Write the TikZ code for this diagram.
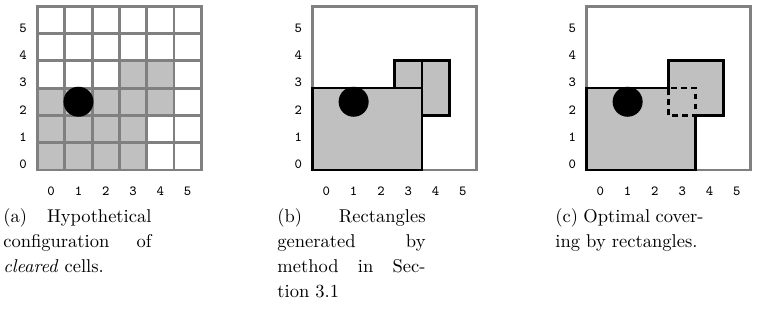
\documentclass[tikz,border=0pt]{standalone}
\usepackage{tikz}
\usetikzlibrary{positioning}

\definecolor{cellgray}{RGB}{192,192,192}
\definecolor{linegray}{RGB}{128,128,128}
\newlength{\capw}
\setlength{\capw}{80pt}
\newcommand{\cellsz}{14.74pt}

\begin{document}
\begin{tikzpicture}[
  gridline/.style={draw=linegray, line width=1.6pt},
  cellbox/.style={fill=cellgray},
  rectbox/.style={fill=cellgray, draw=black, line width=1.5pt},
  overlap/.style={draw=black, line width=1.5pt, dash pattern=on 3.2pt off 2.2pt},
  axislabel/.style={font=\fontsize{7.5}{9}\selectfont\ttfamily, inner sep=0pt},
  caption/.style={anchor=north west, align=left, inner sep=0pt,
                  font=\fontsize{10}{13.5}\selectfont}
]
\useasboundingbox (0,0) rectangle (410.4pt,173.34pt);

% (a) cleared cells on the grid
\begin{scope}[shift={(20.25pt,81.54pt)}, x=\cellsz, y=\cellsz]
  \foreach \cx/\cy in {0/0,1/0,2/0,3/0,0/1,1/1,2/1,3/1,0/2,1/2,2/2,3/2,4/2,3/3,4/3}
    \fill[cellbox] (\cx,\cy) rectangle ++(1,1);
  \foreach \g in {1,...,5} {
    \draw[gridline] (\g,0) -- (\g,6);
    \draw[gridline] (0,\g) -- (6,\g);
  }
  \draw[gridline] (0,0) rectangle (6,6);
  \fill (1.5,2.5) circle (0.55);
  \foreach \k in {0,...,5} {
    \node[axislabel] (ya\k) at (-0.53,\k+0.2) {\k};
    \node[axislabel] (xa\k) at (\k+0.5,-0.77) {\k};
  }
\end{scope}

% (b) rectangles from the method
\begin{scope}[shift={(168.86pt,81.54pt)}, x=\cellsz, y=\cellsz]
  \draw[gridline] (0,0) rectangle (6,6);
  \draw[rectbox] (0,0) rectangle (4,3);
  \draw[rectbox] (3,3) rectangle (4,4);
  \draw[rectbox] (4,2) rectangle (5,4);
  \fill (1.5,2.5) circle (0.55);
  \foreach \k in {0,...,5} {
    \node[axislabel] (yb\k) at (-0.53,\k+0.2) {\k};
    \node[axislabel] (xb\k) at (\k+0.5,-0.77) {\k};
  }
\end{scope}

% (c) optimal covering
\begin{scope}[shift={(316.8pt,81.54pt)}, x=\cellsz, y=\cellsz]
  \draw[gridline] (0,0) rectangle (6,6);
  \draw[rectbox] (0,0) -- (4,0) -- (4,2) -- (5,2) -- (5,4) -- (3,4)
    -- (3,3) -- (0,3) -- cycle;
  \draw[overlap] (3,2) rectangle (4,3);
  \fill (1.5,2.5) circle (0.55);
  \foreach \k in {0,...,5} {
    \node[axislabel] (yc\k) at (-0.53,\k+0.2) {\k};
    \node[axislabel] (xc\k) at (\k+0.5,-0.77) {\k};
  }
\end{scope}

% captions
\node[caption] (capa) at (1.6pt,61pt)
  {\hbox to\capw{(a) Hypothetical}\\
   \hbox to\capw{configuration of}\\
   \textit{cleared} cells.};
\node[caption] (capb) at (149.6pt,61pt)
  {\hbox to\capw{(b) Rectangles}\\
   \hbox to\capw{generated by}\\
   \hbox to\capw{method in Sec-}\\
   tion 3.1};
\node[caption] (capc) at (299.7pt,61pt)
  {\hbox to\capw{(c) Optimal cover-}\\
   ing by rectangles.};
\end{tikzpicture}
\end{document}
